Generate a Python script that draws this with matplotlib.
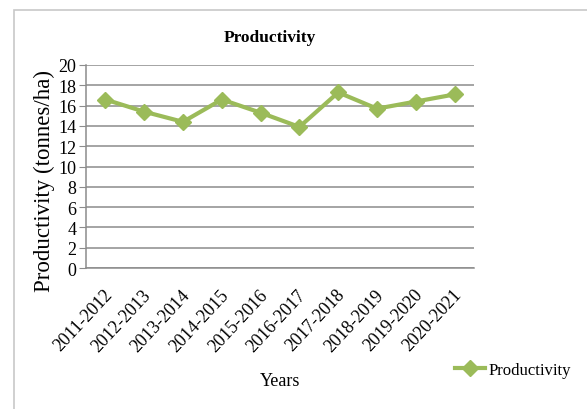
import matplotlib
matplotlib.use("Agg")
import matplotlib.pyplot as plt
from matplotlib.patches import Rectangle
from matplotlib.transforms import ScaledTranslation

years = ["2011-2012", "2012-2013", "2013-2014", "2014-2015", "2015-2016",
         "2016-2017", "2017-2018", "2018-2019", "2019-2020", "2020-2021"]
productivity = [16.6, 15.4, 14.4, 16.6, 15.3, 13.9, 17.3, 15.7, 16.4, 17.1]
y_ticks = [0, 2, 4, 6, 8, 10, 12, 14, 16, 18, 20]

plt.rcParams["font.family"] = ["Liberation Serif", "DejaVu Serif"]

fig = plt.figure(figsize=(5.87, 4.10), dpi=100)
fig.patch.set_facecolor("white")

# outer chart frame
fig.patches.append(Rectangle((14 / 587, -0.1), 1.2, 1.1 - 11 / 410,
                             transform=fig.transFigure, fill=False,
                             edgecolor="#c8c8c8", linewidth=1.2))

ax = fig.add_axes([86 / 587, 1 - 269 / 410, (474 - 86) / 587, (269 - 66) / 410])
x = list(range(len(years)))
line, = ax.plot(x, productivity, color="#9BBB59", linewidth=3.0,
                marker="D", markersize=8.5, markerfacecolor="#9BBB59",
                markeredgecolor="#9BBB59", label="Productivity")

ax.set_xlim(-0.5, len(years) - 0.5)
ax.set_ylim(0, 20)
ax.set_yticks(y_ticks)
ax.set_yticklabels([str(v) for v in y_ticks], fontsize=13)
ax.set_xticks(x)
ax.set_xticklabels(years, rotation=47, ha="right", va="center",
                   rotation_mode="anchor", fontsize=13)
ax.tick_params(axis="x", length=0, pad=17)
ax.tick_params(axis="y", length=5, color="#8c8c8c", pad=2)
shift = ScaledTranslation(4 / 100, 0, fig.dpi_scale_trans)
for lbl in ax.get_xticklabels():
    lbl.set_transform(lbl.get_transform() + shift)

ax.grid(axis="y", color="#8c8c8c", linewidth=1.1)
ax.set_axisbelow(True)
for side in ("top", "right"):
    ax.spines[side].set_visible(False)
for side in ("left", "bottom"):
    ax.spines[side].set_color("#8c8c8c")
    ax.spines[side].set_linewidth(1.1)

ax.set_ylabel("Productivity (tonnes/ha)", fontsize=16.5)
ax.yaxis.label.set_verticalalignment("center")
ax.yaxis.set_label_coords((44 - 86) / 388, (269 - 181) / 203)

fig.text(270 / 587, 1 - 38 / 410, "Productivity", ha="center", va="center",
         fontsize=12.5, fontweight="bold")
fig.text(280 / 587, 1 - 382 / 410, "Years", ha="center", va="center",
         fontsize=13)

fig.legend(handles=[line], loc="center left",
           bbox_to_anchor=(455 / 587, 1 - 371 / 410), frameon=False,
           fontsize=12, handlelength=1.8, handletextpad=0.2,
           borderaxespad=0, borderpad=0)

fig.savefig("out.png", dpi=100, facecolor="white")
